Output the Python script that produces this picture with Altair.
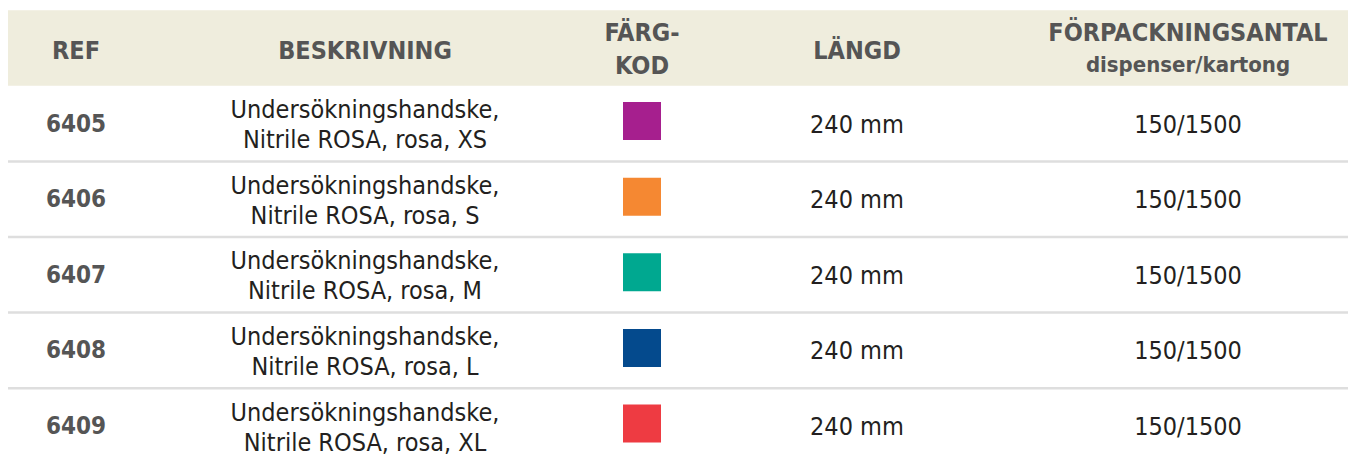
import altair as alt
import pandas as pd

# ---- data ----
columns = ["REF", "BESKRIVNING", "FÄRGKOD", "LÄNGD", "FÖRPACKNINGSANTAL"]
header_line1 = ["REF", "BESKRIVNING", "FÄRG-", "LÄNGD", "FÖRPACKNINGSANTAL"]
header_line2 = ["", "", "KOD", "", "dispenser/kartong"]
refs = ["6405", "6406", "6407", "6408", "6409"]
descriptions = [
    "Undersökningshandske,\nNitrile ROSA, rosa, XS",
    "Undersökningshandske,\nNitrile ROSA, rosa, S",
    "Undersökningshandske,\nNitrile ROSA, rosa, M",
    "Undersökningshandske,\nNitrile ROSA, rosa, L",
    "Undersökningshandske,\nNitrile ROSA, rosa, XL",
]
color_codes = ["#A61F8E", "#F58832", "#00A890", "#044A8D", "#EE3B42"]
lengths = ["240 mm"] * 5
packs = ["150/1500"] * 5

# ---- tables ----
row_idx = list(range(1, len(refs) + 1))
col_idx = {c: i for i, c in enumerate(columns)}
body = pd.DataFrame({"row": row_idx, "ref": refs, "desc": descriptions,
                     "length": lengths, "pack": packs})
header = pd.DataFrame({"c": [col_idx[c] for c in columns], "l1": header_line1,
                       "l2": header_line2, "row": [0] * 5})
band = pd.DataFrame({"y0": [-0.5], "y1": [0.5]})
seps = pd.DataFrame({"y": [r + 0.5 for r in row_idx[:-1]]})

W, H = 1340, 449
xscale = alt.Scale(domain=[0, 1, 2, 3, 4], range=[68, 357, 634, 849, 1180], zero=False, nice=False)
yscale = alt.Scale(domain=[-40 / 75.6, (H - 40) / 75.6], reverse=True, nice=False, zero=False)
FONT = "DejaVu Sans Condensed"
X = alt.X("c:Q", scale=xscale, axis=None)
Y = alt.Y("row:Q", scale=yscale, axis=None)

band_layer = alt.Chart(band).mark_rect(color="#EFEDDD").encode(
    x=alt.value(-1), x2=alt.value(W),
    y=alt.Y("y0:Q", scale=yscale, axis=None), y2="y1:Q")

sep_layer = alt.Chart(seps).mark_rule(color="#DEDEDE", strokeWidth=2.5).encode(
    x=alt.value(-1), x2=alt.value(W),
    y=alt.Y("y:Q", scale=yscale, axis=None))

def head_text(field, flt, dy, size=25):
    return alt.Chart(header).transform_filter(flt).mark_text(
        font=FONT, fontSize=size, fontWeight="bold", color="#555555",
        baseline="middle", align="center", dy=dy).encode(x=X, y=Y, text=f"{field}:N")

def body_text(field, col, bold=False, color="#231F20", dy=1, size=25):
    return alt.Chart(body).transform_calculate(c=str(col_idx[col])).mark_text(
        font=FONT, fontSize=size, fontWeight="bold" if bold else "normal", color=color,
        lineBreak="\n", lineHeight=30, baseline="middle", align="center", dy=dy).encode(
        x=X, y=Y, text=f"{field}:N")

squares = alt.Chart(body).transform_calculate(c=str(col_idx["FÄRGKOD"])).mark_square(
    size=38 * 38, opacity=1, yOffset=-2.5).encode(
    x=X, y=Y,
    color=alt.Color("ref:N", scale=alt.Scale(domain=refs, range=color_codes), legend=None))

chart = alt.layer(
    band_layer, sep_layer,
    head_text("l1", "datum.l2 == ''", 3),
    head_text("l1", "datum.l2 != ''", -15),
    head_text("l2", "datum.l2 == 'KOD'", 18),
    head_text("l2", "datum.l2 != 'KOD' && datum.l2 != ''", 17, size=22),
    body_text("ref", "REF", bold=True, color="#555555", size=24),
    body_text("desc", "BESKRIVNING", dy=-13.5),
    squares,
    body_text("length", "LÄNGD"),
    body_text("pack", "FÖRPACKNINGSANTAL"),
).properties(
    width=W, height=H, padding=0,
    autosize=alt.AutoSizeParams(type="none"),
).configure_view(stroke=None)

chart.save("out.html", embed_options={"renderer": "svg", "actions": False})
